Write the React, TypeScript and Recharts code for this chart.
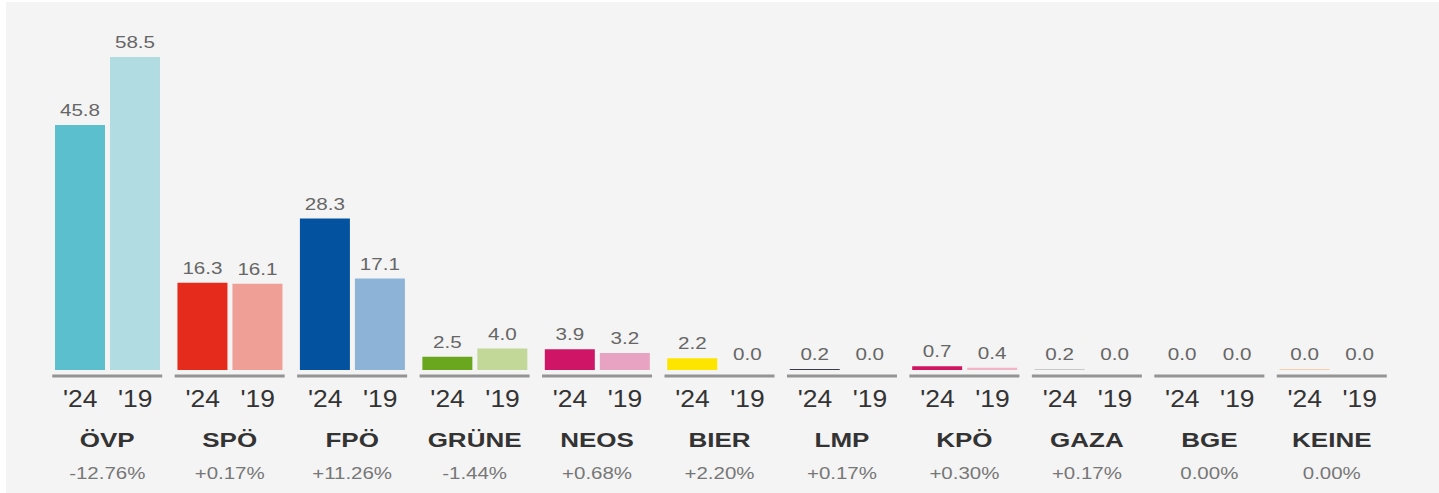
import React from 'react';
import { BarChart, Bar, XAxis, YAxis, Cell, LabelList } from 'recharts';

const parties = ['ÖVP', 'SPÖ', 'FPÖ', 'GRÜNE', 'NEOS', 'BIER', 'LMP', 'KPÖ', 'GAZA', 'BGE', 'KEINE'];
const values2024 = [45.8, 16.3, 28.3, 2.5, 3.9, 2.2, 0.2, 0.7, 0.2, 0.0, 0.0];
const values2019 = [58.5, 16.1, 17.1, 4.0, 3.2, 0.0, 0.0, 0.4, 0.0, 0.0, 0.0];
const changes = ['-12.76%', '+0.17%', '+11.26%', '-1.44%', '+0.68%', '+2.20%', '+0.17%', '+0.30%', '+0.17%', '0.00%', '0.00%'];
const yearLabels = ["'24", "'19"];
const colors2024 = ['#5bbfcd', '#e52b1c', '#02529f', '#6aa71f', '#cf1565', '#fde500', '#3a3a4a', '#d0155e', '#c8c8c8', '#f4f4f4', '#f2cfa8'];
const colors2019 = ['#b1dde2', '#ef9f96', '#8db3d6', '#c2d899', '#e8a2c2', '#f4f4f4', '#f4f4f4', '#f2b5c6', '#f4f4f4', '#f4f4f4', '#f4f4f4'];

const data = parties.map((p, i) => ({ party: p, v24: values2024[i], v19: values2019[i], change: changes[i] }));

const FONT = '"Liberation Sans", Arial, sans-serif';

const ScaledText = (props: any) => {
  const { x, y, sx, children, ...rest } = props;
  return (
    <text transform={`translate(${x},${y}) scale(${sx},1)`} x={0} y={0} textAnchor="middle" fontFamily={FONT} {...rest}>
      {children}
    </text>
  );
};

const PartyTick = (props: any) => {
  const { x, y, index } = props;
  return (
    <g>
      <line x1={x - 55} x2={x + 55} y1={y + 6} y2={y + 6} stroke="#949494" strokeWidth={3} />
      <ScaledText x={x - 27} y={y + 37} sx={1.15} fontSize={23} fill="#333">{yearLabels[0]}</ScaledText>
      <ScaledText x={x + 28} y={y + 37} sx={1.15} fontSize={23} fill="#333">{yearLabels[1]}</ScaledText>
      <ScaledText x={x} y={y + 77} sx={1.3} fontSize={20} fontWeight="bold" fill="#333">{parties[index]}</ScaledText>
      <ScaledText x={x} y={y + 109} sx={1.28} fontSize={16} fill="#777">{changes[index]}</ScaledText>
    </g>
  );
};

const ValueLabel = (props: any) => {
  const { x, y, width, value } = props;
  return (
    <ScaledText x={Number(x) + Number(width) / 2} y={Number(y) - 9} sx={1.25} fontSize={16.5} fill="#666">
      {Number(value).toFixed(1)}
    </ScaledText>
  );
};

export default function App() {
  return (
    <div style={{ position: 'absolute', left: 0, top: 0, width: 1439, height: 493, background: '#ffffff' }}>
      <div style={{ position: 'absolute', left: 6, top: 2, right: 0, bottom: 0, background: '#f4f4f4' }} />
      <div style={{ position: 'absolute', left: 0, top: 0 }}>
        <BarChart
          width={1439}
          height={493}
          data={data}
          margin={{ top: 49, right: 46, bottom: 0, left: 46 }}
          barCategoryGap={9}
          barGap={5}
        >
          <XAxis
            dataKey="party"
            height={123}
            interval={0}
            axisLine={false}
            tickLine={false}
            tickSize={0}
            tickMargin={0}
            tick={<PartyTick />}
          />
          <YAxis hide domain={[0, 60]} />
          <Bar dataKey="v24" isAnimationActive={false} minPointSize={1}>
            {data.map((d, i) => (
              <Cell key={'a' + i} fill={colors2024[i]} />
            ))}
            <LabelList dataKey="v24" content={<ValueLabel />} />
          </Bar>
          <Bar dataKey="v19" isAnimationActive={false} minPointSize={1}>
            {data.map((d, i) => (
              <Cell key={'b' + i} fill={colors2019[i]} />
            ))}
            <LabelList dataKey="v19" content={<ValueLabel />} />
          </Bar>
        </BarChart>
      </div>
    </div>
  );
}
